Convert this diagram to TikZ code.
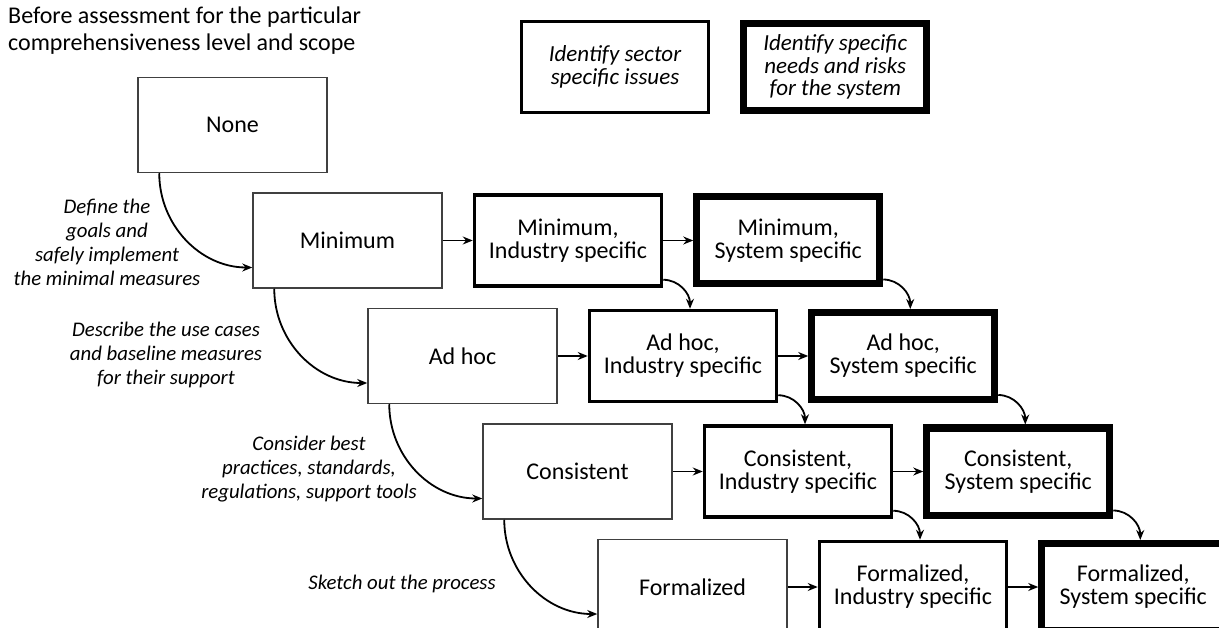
\documentclass[tikz,border=0pt]{standalone}
\usepackage{fontspec}
\setmainfont{Carlito}
\usepackage{tikz}
\usetikzlibrary{arrows.meta,positioning}

\begin{document}
\begin{tikzpicture}[x=1pt, y=-1pt, node distance=30pt,
  >={Stealth[length=10pt,width=8pt]},
  level/.style={draw=black!75, line width=1.5pt, minimum width=189pt, minimum height=95pt,
    inner sep=0pt, align=center, font=\fontsize{24}{23}\selectfont},
  industry/.style={level, draw=black, line width=3.5pt, minimum width=187pt, minimum height=91pt},
  system/.style={level, draw=black, line width=7pt, minimum width=183pt, minimum height=87pt},
  hint/.style={inner sep=0pt, align=center, font=\fontsize{20.8}{24}\selectfont\itshape},
  link/.style={->, line width=1.8pt}]
\useasboundingbox (0,0) rectangle (1219,628);
\clip (0,0) rectangle (1219,628);

% title and legend
\node[anchor=west, align=left, inner sep=0pt, font=\fontsize{24}{27}\selectfont] (title) at (8,31)
  {Before assessment for the particular\\comprehensiveness level and scope};
\node[industry, font=\fontsize{23}{22.5}\selectfont\itshape] (l_i) at (615,67) {Identify sector\\specific issues};
\node[system, font=\fontsize{23}{22.5}\selectfont\itshape] (l_s) [right=of l_i] {Identify specific\\needs and risks\\for the system};

% levels
\node[level] (b_0) at (232.5,125) {None};
\node[level] (b_1) [below right=19pt and 115pt of b_0.south west] {Minimum};
\node[level] (b_2) [below right=19pt and 115pt of b_1.south west] {Ad hoc};
\node[level] (b_3) [below right=19pt and 115pt of b_2.south west] {Consistent};
\node[level] (b_4) [below right=19pt and 115pt of b_3.south west] {Formalized};

\node[industry] (i_1) [right=of b_1] {Minimum,\\Industry specific};
\node[industry] (i_2) [right=of b_2] {Ad hoc,\\Industry specific};
\node[industry] (i_3) [right=of b_3] {Consistent,\\Industry specific};
\node[industry] (i_4) [right=of b_4] {Formalized,\\Industry specific};

\node[system] (s_1) [right=of i_1] {Minimum,\\System specific};
\node[system] (s_2) [right=of i_2] {Ad hoc,\\System specific};
\node[system] (s_3) [right=of i_3] {Consistent,\\System specific};
\node[system] (s_4) [right=of i_4] {Formalized,\\System specific};

% steps
\node[hint] (t_1) at (107,242) {Define the\\goals and\\safely implement\\the minimal measures};
\node[hint] (t_2) at (166,355) {Describe the use cases\\and baseline measures\\for their support};
\node[hint] (t_3) at (309,469) {Consider best\\practices, standards,\\regulations, support tools};
\node[hint] (t_4) at (402,584) {Sketch out the process};

\draw[link] ([xshift=22pt]b_0.south west) to[out=-90,in=180] ([yshift=-27pt]b_1.west);
\draw[link] ([xshift=22pt]b_1.south west) to[out=-90,in=180] ([yshift=-27pt]b_2.west);
\draw[link] ([xshift=22pt]b_2.south west) to[out=-90,in=180] ([yshift=-27pt]b_3.west);
\draw[link] ([xshift=22pt]b_3.south west) to[out=-90,in=180] ([yshift=-27pt]b_4.west);

\draw[link] (b_1) -- (i_1);
\draw[link] (b_2) -- (i_2);
\draw[link] (b_3) -- (i_3);
\draw[link] (b_4) -- (i_4);
\draw[link] (i_1) -- (s_1);
\draw[link] (i_2) -- (s_2);
\draw[link] (i_3) -- (s_3);
\draw[link] (i_4) -- (s_4);

\draw[link] ([yshift=8pt]i_1.south east) to[out=0,in=90] ([xshift=7pt]i_2.north);
\draw[link] ([yshift=8pt]i_2.south east) to[out=0,in=90] ([xshift=7pt]i_3.north);
\draw[link] ([yshift=8pt]i_3.south east) to[out=0,in=90] ([xshift=7pt]i_4.north);
\draw[link] ([yshift=8pt]s_1.south east) to[out=0,in=90] ([xshift=7pt]s_2.north);
\draw[link] ([yshift=8pt]s_2.south east) to[out=0,in=90] ([xshift=7pt]s_3.north);
\draw[link] ([yshift=8pt]s_3.south east) to[out=0,in=90] ([xshift=7pt]s_4.north);
\end{tikzpicture}
\end{document}
